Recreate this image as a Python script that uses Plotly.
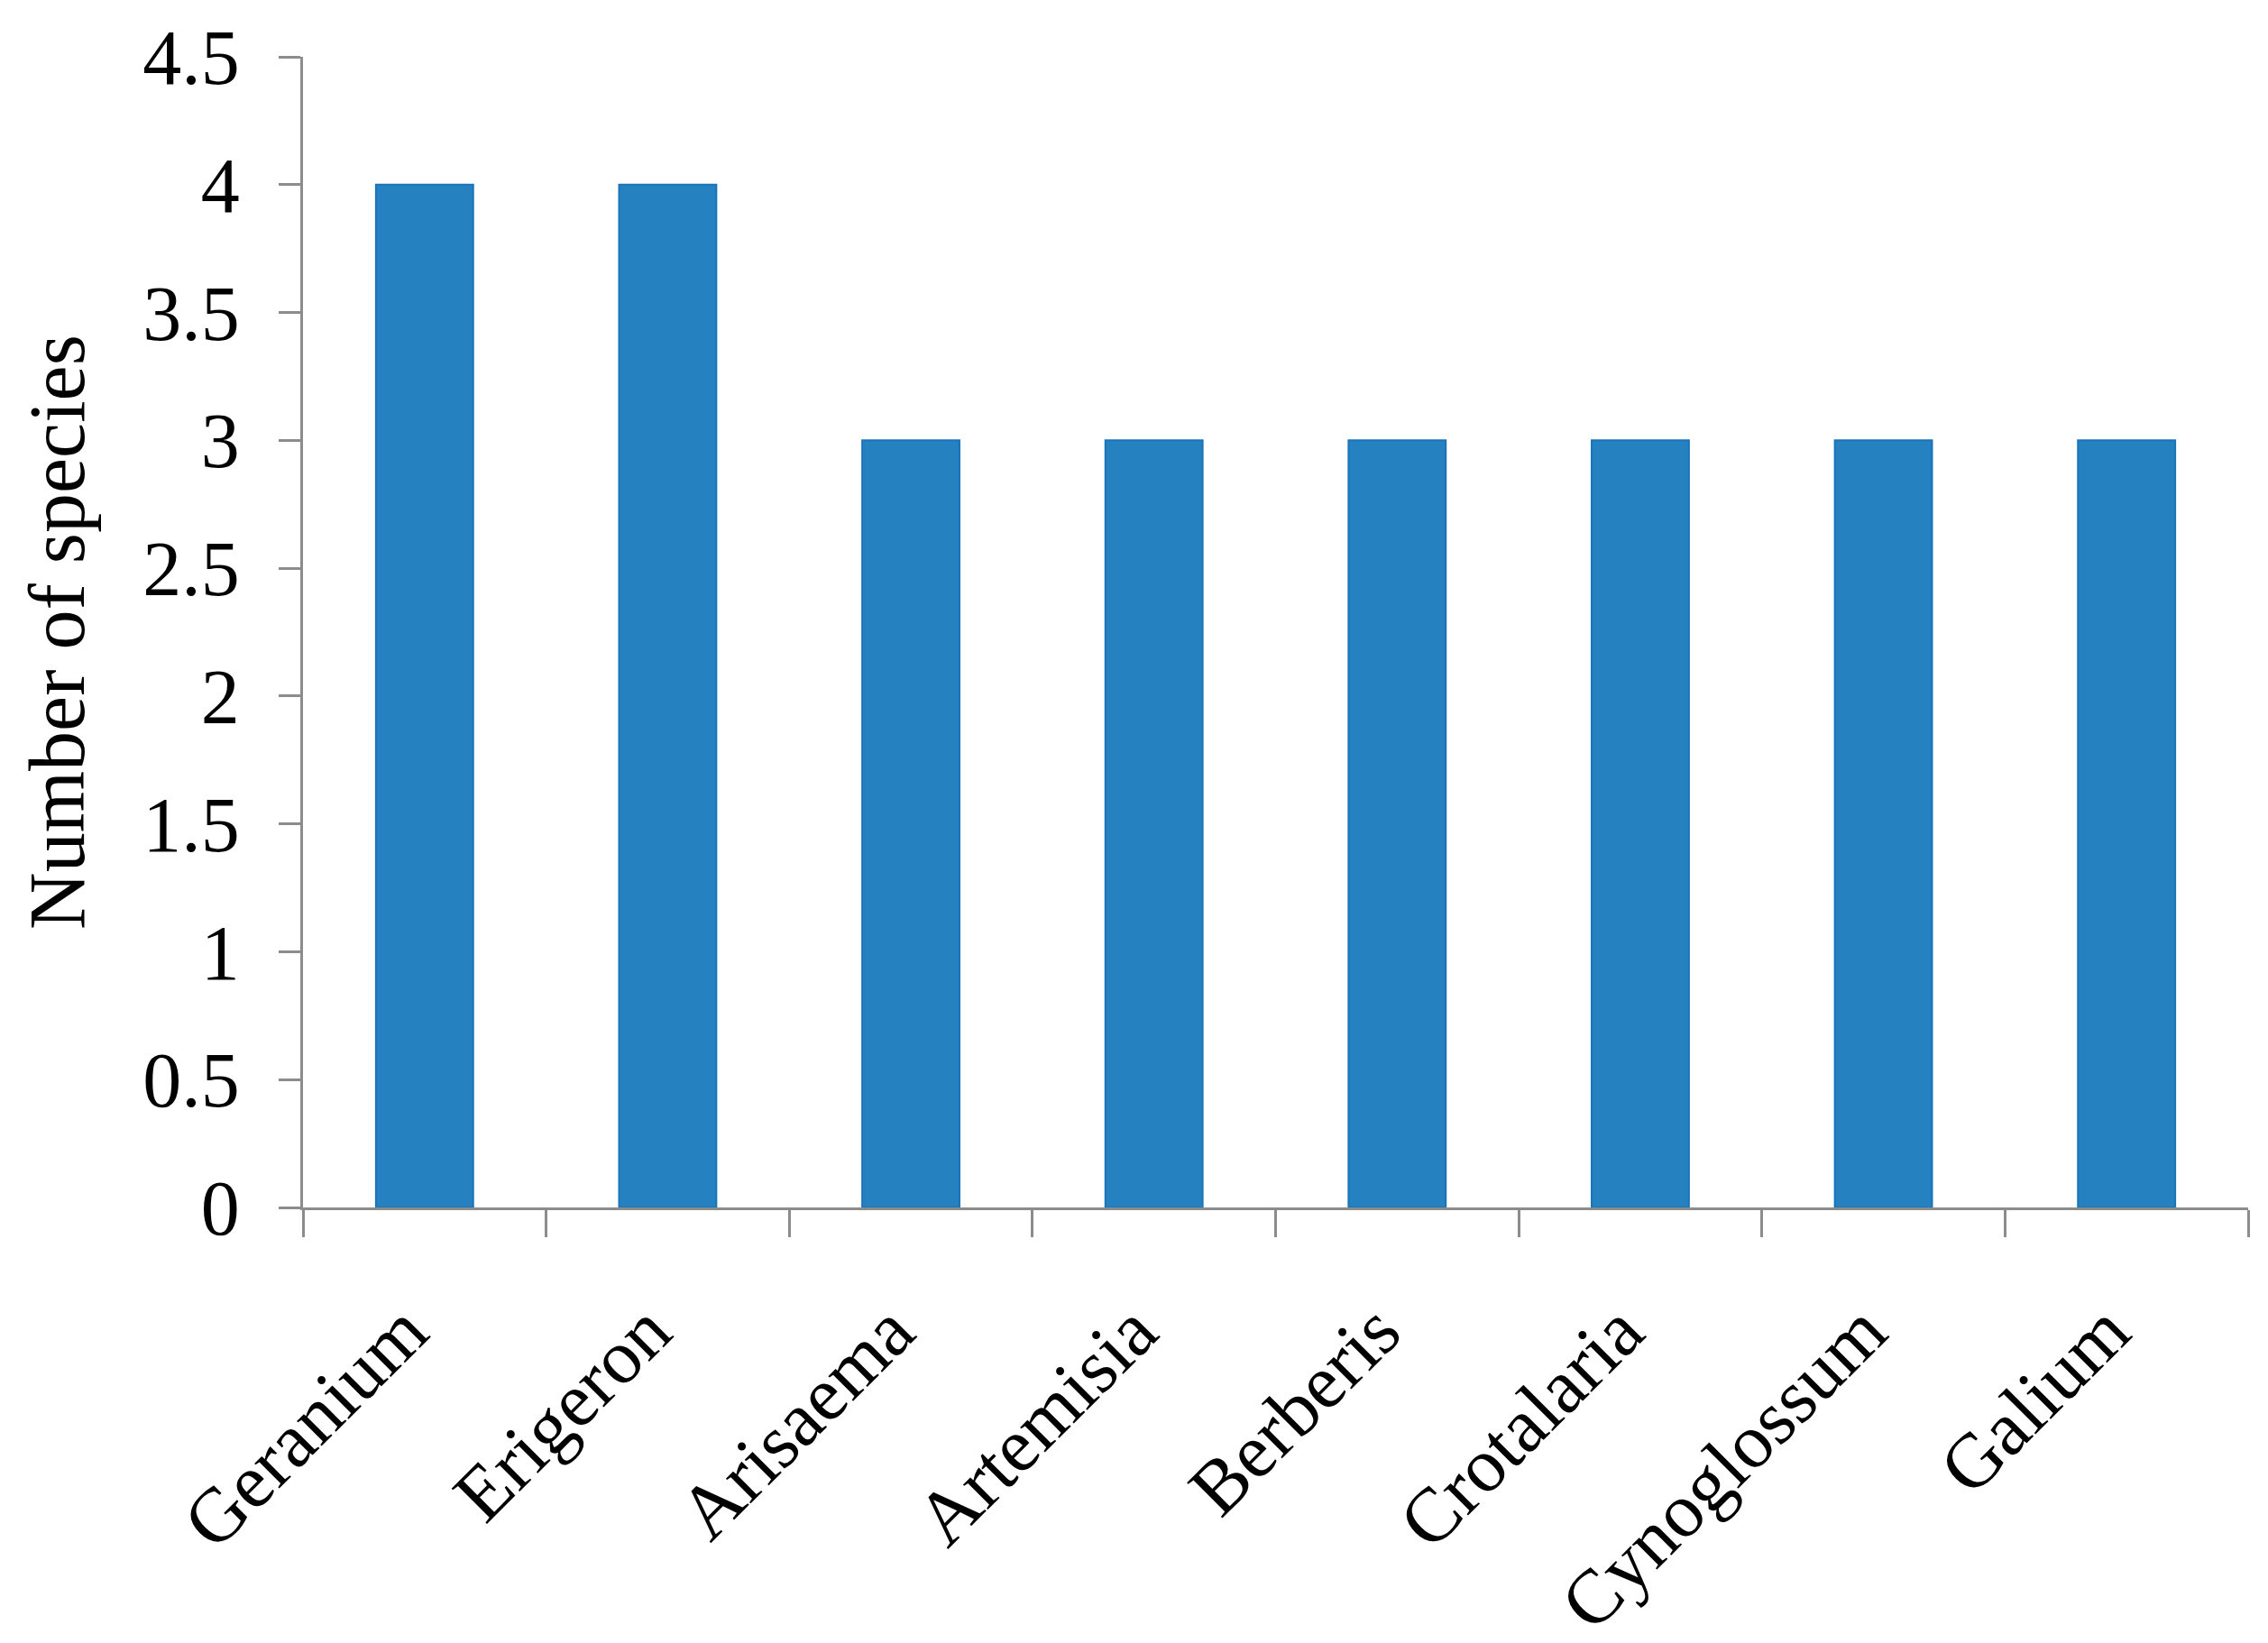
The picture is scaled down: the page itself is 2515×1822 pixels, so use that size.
import plotly.graph_objects as go

genera = ["Geranium", "Erigeron", "Arisaema", "Artemisia", "Berberis",
          "Crotalaria", "Cynoglossum", "Galium"]
species_count = [4, 4, 3, 3, 3, 3, 3, 3]
y_ticks = [0, 0.5, 1, 1.5, 2, 2.5, 3, 3.5, 4, 4.5]
y_ticktext = ["0", "0.5", "1", "1.5", "2", "2.5", "3", "3.5", "4", "4.5"]

serif = "Palatino Linotype, Book Antiqua, Liberation Serif, serif"
axis_grey = "#8c8c8c"

fig = go.Figure(
    go.Bar(
        x=genera,
        y=species_count,
        marker=dict(color="#2681c0", line=dict(color="#1a74b9", width=2)),
        width=0.4,
    )
)

fig.update_layout(
    width=2515,
    height=1822,
    margin=dict(l=328, r=30, t=55, b=491),
    plot_bgcolor="white",
    paper_bgcolor="white",
    showlegend=False,
    font=dict(family=serif, size=86, color="black"),
)

fig.update_xaxes(
    type="category",
    showline=True,
    linecolor=axis_grey,
    linewidth=3,
    ticks="outside",
    tickson="boundaries",
    ticklen=30,
    tickwidth=3,
    tickcolor=axis_grey,
    tickangle=-45,
    ticklabelstandoff=50,
    ticklabelshift=-22,
    tickfont=dict(family=serif, size=85, color="black"),
    showgrid=False,
    automargin=False,
)

fig.update_yaxes(
    range=[0, 4.5],
    tickvals=y_ticks,
    ticktext=y_ticktext,
    showline=True,
    linecolor=axis_grey,
    linewidth=3,
    ticks="outside",
    ticklen=24,
    tickwidth=3,
    tickcolor=axis_grey,
    ticklabelstandoff=26,
    tickfont=dict(family=serif, size=86, color="black"),
    showgrid=False,
    zeroline=False,
    automargin=False,
    title=dict(text="Number of species", font=dict(family=serif, size=88, color="black"),
               standoff=36),
)

fig.write_html("out.html")
